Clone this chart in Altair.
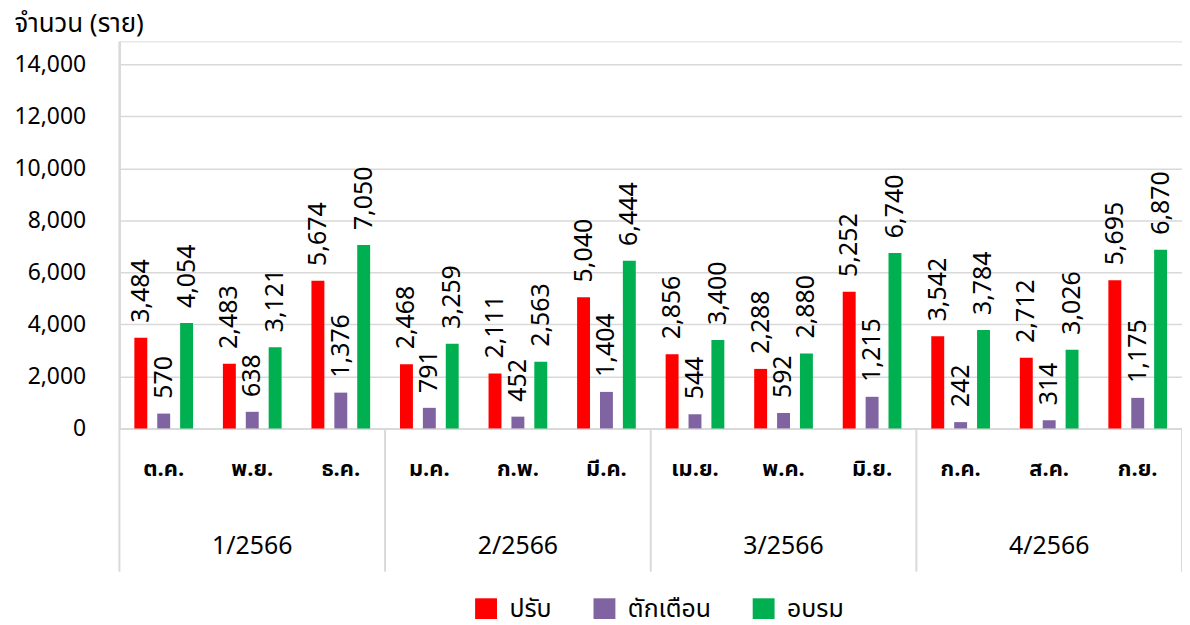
import altair as alt
import pandas as pd

months = ["ต.ค.", "พ.ย.", "ธ.ค.", "ม.ค.", "ก.พ.", "มี.ค.", "เม.ย.", "พ.ค.", "มิ.ย.", "ก.ค.", "ส.ค.", "ก.ย."]
quarters = ["1/2566", "2/2566", "3/2566", "4/2566"]
series = ["ปรับ", "ตักเตือน", "อบรม"]
fine = [3484, 2483, 5674, 2468, 2111, 5040, 2856, 2288, 5252, 3542, 2712, 5695]
warn = [570, 638, 1376, 791, 452, 1404, 544, 592, 1215, 242, 314, 1175]
train = [4054, 3121, 7050, 3259, 2563, 6444, 3400, 2880, 6740, 3784, 3026, 6870]
colors = ["#ff0000", "#8064a2", "#00b050"]
y_ticks = [0, 2000, 4000, 6000, 8000, 10000, 12000, 14000]

FONT = "Tahoma, 'Leelawadee UI', 'Noto Sans Thai', 'Noto Sans', sans-serif"

rows = []
for i, m in enumerate(months):
    for s, vals in zip(series, [fine, warn, train]):
        rows.append({"month": m, "series": s, "value": vals[i]})
df = pd.DataFrame(rows)

q_df = pd.DataFrame({"quarter": quarters, "month": [months[1], months[4], months[7], months[10]]})
sep_df = pd.DataFrame({"month": [months[3], months[6], months[9]]})
left_df = pd.DataFrame({"month": [months[0]]})
right_df = pd.DataFrame({"month": [months[11]]})

W, H = 1068, 389

x_scale = alt.Scale(domain=months, paddingInner=0, paddingOuter=0)
x_enc = alt.X("month:N", scale=x_scale, sort=months,
              axis=alt.Axis(title=None, labelAngle=0, labelFontSize=22, labelFontWeight="bold",
                            labelFont=FONT, labelColor="#000000", labelPadding=30, ticks=False,
                            domainColor="#d9d9d9", domainWidth=2))
xoff = alt.XOffset("series:N", sort=series,
                   scale=alt.Scale(domain=series, paddingInner=0.435, paddingOuter=0.652))
y_scale = alt.Scale(domain=[0, 14880], nice=False)

bars = alt.Chart(df).mark_bar().encode(
    x=x_enc,
    xOffset=xoff,
    y=alt.Y("value:Q", scale=y_scale,
            axis=alt.Axis(title="จำนวน (ราย)", titleAngle=0, titleAlign="left", titleBaseline="middle",
                          titleX=-106, titleY=-18, titleFontSize=26, titleFont=FONT,
                          titleFontWeight="normal", titleColor="#000000",
                          values=y_ticks, format=",d", labelFontSize=23, labelFont=FONT,
                          labelColor="#000000", labelPadding=34, ticks=False,
                          gridColor="#d9d9d9", gridWidth=1.5, domainColor="#d9d9d9", domainWidth=2)),
    color=alt.Color("series:N", sort=series, scale=alt.Scale(domain=series, range=colors),
                    legend=alt.Legend(title=None, orient="none", direction="horizontal",
                                      legendX=356, legendY=558, symbolType="square", symbolSize=484,
                                      symbolStrokeWidth=0, labelFontSize=25, labelFont=FONT,
                                      labelColor="#000000", columnPadding=40, symbolOffset=0,
                                      labelOffset=11)),
)

labels = alt.Chart(df).mark_text(angle=270, align="left", baseline="middle", dx=15,
                                  fontSize=25, font=FONT, color="#000000").encode(
    x=alt.X("month:N", scale=x_scale, sort=months),
    xOffset=xoff,
    y=alt.Y("value:Q", scale=y_scale),
    text=alt.Text("value:Q", format=",d"),
)

q_text = alt.Chart(q_df).mark_text(fontSize=25, font=FONT, color="#000000", baseline="middle").encode(
    x=alt.X("month:N", scale=x_scale, sort=months),
    y=alt.value(507),
    text="quarter:N",
)

sep = alt.Chart(sep_df).mark_rule(color="#d9d9d9", strokeWidth=2).encode(
    x=alt.X("month:N", scale=x_scale, sort=months, bandPosition=0),
    y=alt.value(H), y2=alt.value(533),
)
left_line = alt.Chart(left_df).mark_rule(color="#d9d9d9", strokeWidth=2).encode(
    x=alt.X("month:N", scale=x_scale, sort=months, bandPosition=0),
    y=alt.value(0), y2=alt.value(533),
)
right_line = alt.Chart(right_df).mark_rule(color="#d9d9d9", strokeWidth=2).encode(
    x=alt.X("month:N", scale=x_scale, sort=months, bandPosition=1),
    y=alt.value(H), y2=alt.value(533),
)

chart = alt.layer(bars, labels, q_text, sep, left_line, right_line).properties(
    width=W, height=H,
    autosize=alt.AutoSizeParams(type="none"),
    padding={"left": 112, "top": 32, "right": 0, "bottom": 190},
).configure_view(stroke=None).configure(font=FONT)

chart.save("out.html", embed_options={"renderer": "svg", "actions": False})
